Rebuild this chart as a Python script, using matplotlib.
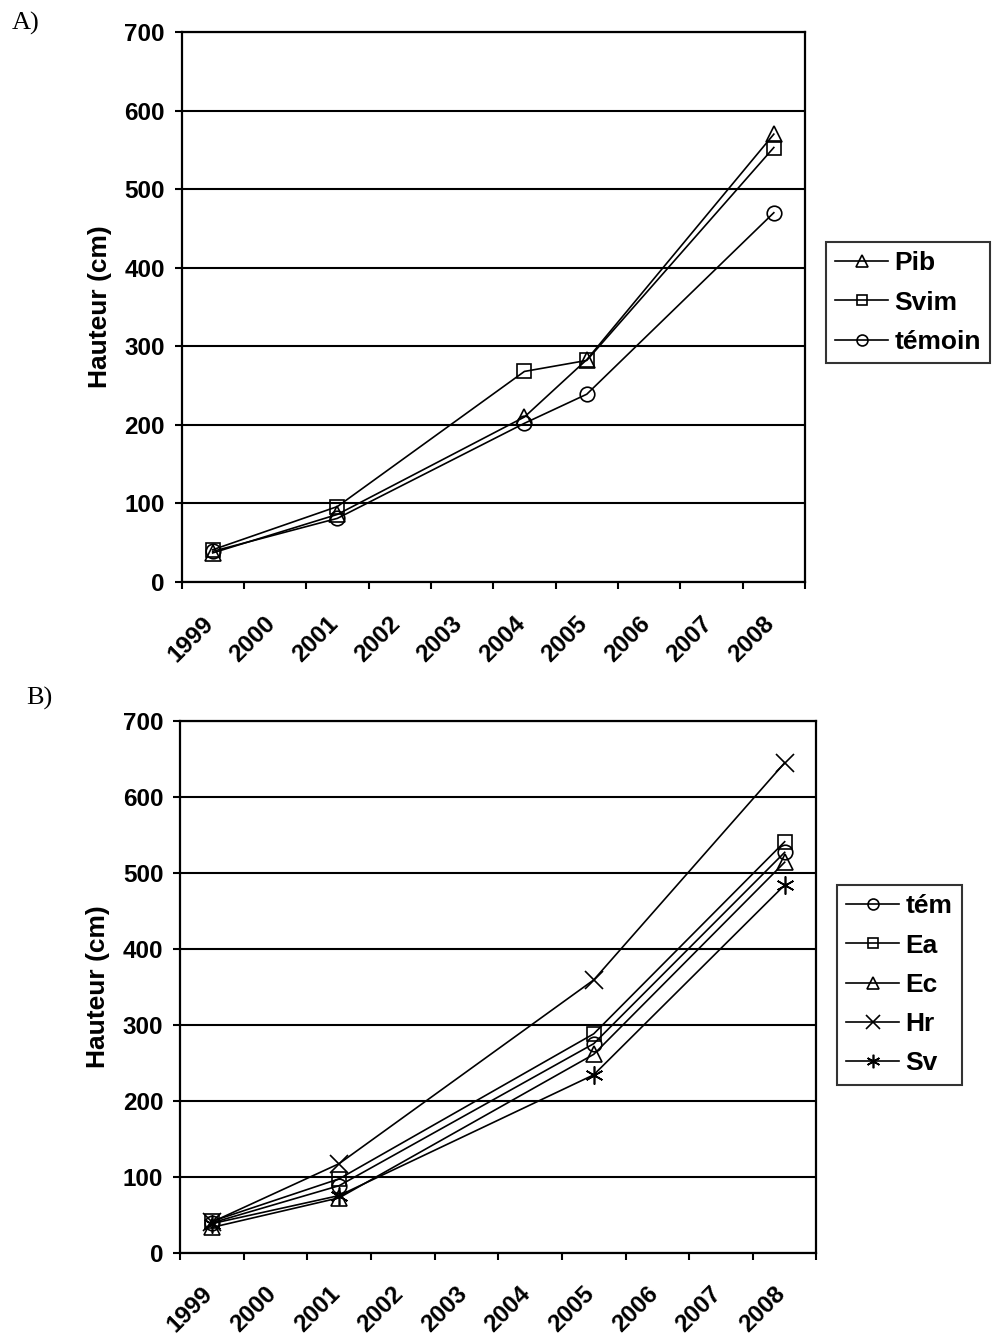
import matplotlib
matplotlib.use('Agg')
import matplotlib.pyplot as plt
import matplotlib.transforms as mtransforms
import numpy as np

plt.rcParams['font.family'] = ['Liberation Sans', 'DejaVu Sans']
plt.rcParams['font.weight'] = 'bold'

# x axis: one category per year
years = ['1999', '2000', '2001', '2002', '2003', '2004', '2005', '2006', '2007', '2008']

# A) measured years and heights (cm)
years_a = [1999, 2001, 2004, 2005, 2008]
pib = [37, 86, 210, 283, 570]
svim = [41, 96, 268, 282, 553]
temoin_a = [39, 81, 202, 239, 470]

# B) measured years and heights (cm)
years_b = [1999, 2001, 2005, 2008]
tem_b = [39, 88, 275, 527]
ea = [41, 97, 288, 541]
ec = [33, 72, 261, 514]
hr = [40, 117, 359, 645]
sv = [38, 75, 234, 484]

FIG_W, FIG_H = 992, 1336
DPI = 100


def fig_rect(x0, y0, x1, y1):
    # pixel box (top-left origin) -> figure fraction rect
    return [x0 / FIG_W, 1 - y1 / FIG_H, (x1 - x0) / FIG_W, (y1 - y0) / FIG_H]


def cat_x(yrs):
    return np.array(yrs) - 1999 + 0.5


def style_axes(ax, fig):
    ax.set_xlim(0, len(years))
    ax.set_ylim(0, 700)
    ax.set_yticks(np.arange(0, 701, 100))
    ax.grid(axis='y', color='black', linewidth=1.5)
    ax.set_axisbelow(True)
    for s in ax.spines.values():
        s.set_linewidth(1.6)
        s.set_color('black')
    ax.tick_params(axis='y', direction='out', length=5, width=1.5, pad=7, labelsize=17.5)
    for lab in ax.get_yticklabels():
        lab.set_fontweight('bold')

    # ticks between categories, labels on category centres
    ax.set_xticks(np.arange(0, len(years) + 1))
    ax.set_xticklabels([])
    ax.tick_params(axis='x', which='major', direction='out', length=5, width=1.5)
    ax.set_xticks(np.arange(len(years)) + 0.5, minor=True)
    ax.set_xticklabels(years, minor=True, rotation=45, ha='right', va='top',
                       rotation_mode='anchor', fontsize=17.5, fontweight='bold')
    ax.tick_params(axis='x', which='minor', length=0, pad=21.5)
    shift = mtransforms.ScaledTranslation(-11 / DPI, 0, fig.dpi_scale_trans)
    for lab in ax.get_xticklabels(minor=True):
        lab.set_transform(lab.get_transform() + shift)

    ax.set_ylabel('Hauteur (cm)', fontsize=19, fontweight='bold', labelpad=9)


def plot_series(ax, x, y, marker, label, ms=10.5):
    ax.plot(x, y, color='black', linewidth=1.2, marker=marker, markersize=ms,
            markerfacecolor='none', markeredgecolor='black', markeredgewidth=1.2,
            label=label)


def add_legend(ax, fig, x0, y0):
    leg = ax.legend(loc='upper left', bbox_to_anchor=(x0 / FIG_W, 1 - y0 / FIG_H),
                    bbox_transform=fig.transFigure, frameon=True, fancybox=False,
                    edgecolor='black', handlelength=2.0,
                    handletextpad=0.25, labelspacing=0.58, borderpad=0.35,
                    borderaxespad=0, markerscale=0.75,
                    prop={'weight': 'bold', 'size': 19})
    leg.get_frame().set_linewidth(1.5)
    return leg


fig = plt.figure(figsize=(FIG_W / DPI, FIG_H / DPI), dpi=DPI)

# --- A) ---
ax1 = fig.add_axes(fig_rect(181.5, 32, 805, 582))
xa = cat_x(years_a)
plot_series(ax1, xa, pib, '^', 'Pib', ms=12)
plot_series(ax1, xa, svim, 's', 'Svim')
plot_series(ax1, xa, temoin_a, 'o', 'témoin')
style_axes(ax1, fig)
add_legend(ax1, fig, 826, 242)

# --- B) ---
ax2 = fig.add_axes(fig_rect(180, 721, 816.5, 1252.5))
xb = cat_x(years_b)
plot_series(ax2, xb, tem_b, 'o', 'tém')
plot_series(ax2, xb, ea, 's', 'Ea')
plot_series(ax2, xb, ec, '^', 'Ec', ms=12)
plot_series(ax2, xb, hr, 'x', 'Hr', ms=13)
plot_series(ax2, xb, sv, (6, 2, 0), 'Sv', ms=13)
style_axes(ax2, fig)
add_legend(ax2, fig, 837, 885)

fig.text(12 / FIG_W, 1 - 23 / FIG_H, 'A)', family='Liberation Serif', fontsize=19,
         fontweight='normal', va='center', ha='left')
fig.text(26 / FIG_W, 1 - 698 / FIG_H, 'B)', family='Liberation Serif', fontsize=19,
         fontweight='normal', va='center', ha='left')

fig.savefig('out.png', dpi=DPI, facecolor='white')
